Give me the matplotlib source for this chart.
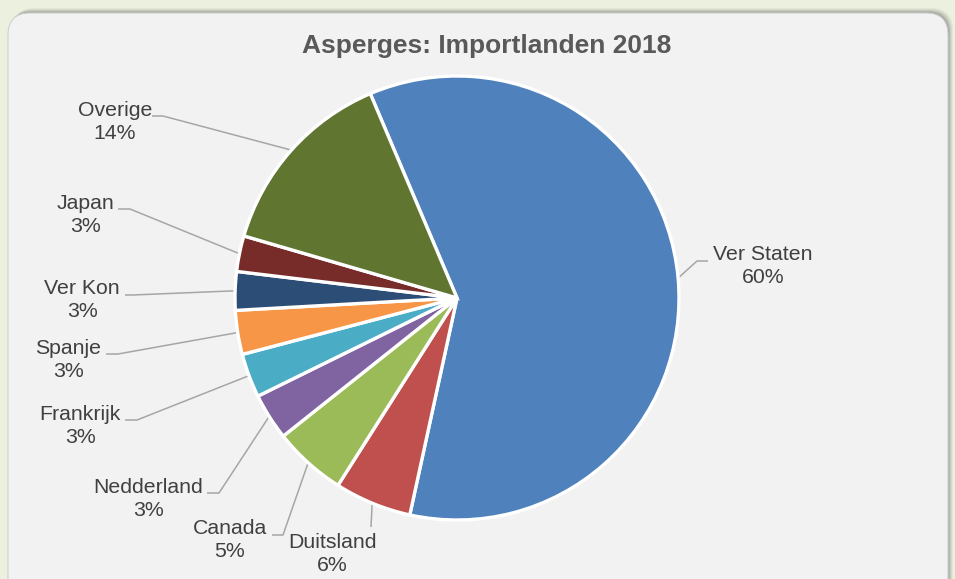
import numpy as np
import matplotlib
matplotlib.use("Agg")
import matplotlib.pyplot as plt
from matplotlib.patches import FancyBboxPatch

plt.rcParams['font.family'] = ['Liberation Sans', 'DejaVu Sans']

# ---- data ----
countries = ["Ver Staten", "Duitsland", "Canada", "Nedderland", "Frankrijk",
             "Spanje", "Ver Kon", "Japan", "Overige"]
shares = [59.8, 5.6, 5.3, 3.4, 3.2, 3.2, 2.8, 2.6, 14.1]
colors = ["#4f81bd", "#c0504d", "#9bbb59", "#8064a2", "#4bacc6",
          "#f79646", "#2c4d75", "#772c2a", "#5f7530"]
title = "Asperges: Importlanden 2018"

# ---- layout (pixel coordinates, y from top) ----
W, H = 955, 579
label_pos = [(763, 266), (332, 554), (230, 540), (148, 499), (80, 426),
             (68, 360), (82, 300), (85, 215), (115, 122)]
elbow_pos = [(697, 261), (371, 527), (283, 535), (219, 493), (137, 420),
             (118, 354), (133, 295), (130, 209), (163, 116)]
end_pos = [(708, 261), (371, 527), (272, 535), (207, 493), (125, 420),
           (106, 354), (125, 295), (118, 209), (152, 116)]

fig = plt.figure(figsize=(W / 100, H / 100), dpi=100)
fig.patch.set_facecolor("#ebf1de")
ax = fig.add_axes([0, 0, 1, 1])
ax.set_facecolor("none")

def P(x, y):
    return (x, H - y)

# panel shadow (toward top-right) and panel
for d, a in [(5, 0.08), (4, 0.10), (3, 0.14), (2, 0.20), (1, 0.28)]:
    sh = FancyBboxPatch((8 + d, -40), 940, H - 13 + 40 + d,
                        boxstyle="round,pad=0,rounding_size=22",
                        fc="#707070", ec="none", alpha=a, zorder=0)
    ax.add_patch(sh)
panel = FancyBboxPatch((8, -40), 940, H - 13 + 40, boxstyle="round,pad=0,rounding_size=22",
                       fc="#f2f2f2", ec="#d0d0d0", lw=0.8, zorder=1)
ax.add_patch(panel)

cx, cy = P(457, 298)
R = 222
wedges, _ = ax.pie(shares, colors=colors, startangle=113, counterclock=False,
                   center=(cx, cy), radius=R,
                   wedgeprops=dict(edgecolor="white", linewidth=2.4))
for w in wedges:
    w.set_zorder(3)

for w, name, v, lp, ep, en in zip(wedges, countries, shares, label_pos, elbow_pos, end_pos):
    mid = np.deg2rad((w.theta1 + w.theta2) / 2)
    ax_x = cx + R * 1.005 * np.cos(mid)
    ax_y = cy + R * 1.005 * np.sin(mid)
    ex, ey = P(*ep)
    nx, ny = P(*en)
    ax.plot([ax_x, ex, nx], [ax_y, ey, ny], color="#a6a6a6", lw=1.1, zorder=2,
            solid_capstyle="butt")
    tx, ty = P(*lp)
    ax.text(tx, ty, f"{name}\n{round(v)}%", ha="center", va="center",
            fontsize=15.3, color="#404040", linespacing=1.3, zorder=4)

tx, ty = P(487, 46)
ax.text(tx, ty, title, ha="center", va="center", fontsize=19, fontweight="bold",
        color="#595959", zorder=4)

ax.set_xlim(0, W)
ax.set_ylim(0, H)
ax.set_aspect("auto")
ax.axis("off")
fig.savefig("out.png", dpi=100, facecolor=fig.get_facecolor())
